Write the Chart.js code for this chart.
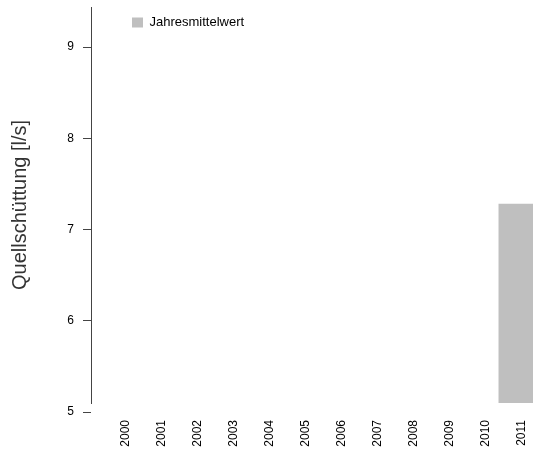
<!DOCTYPE html>
<html>
<head>
<meta charset="utf-8">
<script src="https://cdn.jsdelivr.net/npm/chart.js@4.4.1/dist/chart.umd.min.js"></script>
<style>
  html, body { margin: 0; padding: 0; background: #fff; overflow: hidden; }
  #wrap { width: 533px; height: 453px; }
</style>
</head>
<body>
<div id="wrap"><canvas id="myChart" width="533" height="453"></canvas></div>
<script>
const years = [2000, 2001, 2002, 2003, 2004, 2005, 2006, 2007, 2008, 2009, 2010, 2011];
const yearlyMean = [null, null, null, null, null, null, null, null, null, null, null, 7.28];
const yTicks = [5, 6, 7, 8, 9];

const axisColor = '#444';
const font = 'Liberation Sans, Arial, sans-serif';

// legend sits inside the plot, a bit right of the axis
const legendShift = {
    id: 'legendShift',
    afterLayout(chart) {
        chart.legend.left += 31;
        chart.legend.top += 6;
    }
};

const ctx = document.getElementById('myChart').getContext('2d');

const myChart = new Chart(ctx, {
    type: 'bar',
    data: {
        datasets: [{
            label: 'Jahresmittelwert',
            data: years.map((y, i) => ({ x: y, y: yearlyMean[i] })),
            backgroundColor: '#bfbfbf',
            borderWidth: 0,
            barThickness: 46
        }]
    },
    options: {
        responsive: false,
        animation: false,
        layout: { padding: { top: 7, left: 0, right: 0, bottom: 0 } },
        plugins: {
            tooltip: { enabled: false },
            legend: {
                position: 'chartArea',
                align: 'start',
                labels: {
                    boxWidth: 11,
                    boxHeight: 10,
                    padding: 10,
                    color: '#000',
                    font: { family: font, size: 13 }
                }
            }
        },
        scales: {
            x: {
                type: 'linear',
                offset: false,
                min: 1999.03,
                max: 2011.31,
                afterBuildTicks: (scale) => { scale.ticks = years.map(v => ({ value: v })); },
                afterFit: (scale) => { scale.height = 50; scale.paddingLeft = 0; scale.paddingRight = 0; },
                grid: { display: false, drawTicks: false },
                border: { display: false },
                ticks: {
                    autoSkip: false,
                    minRotation: 90,
                    maxRotation: 90,
                    padding: 17,
                    color: '#000',
                    font: { family: font, size: 12 },
                    callback: (v) => String(v)
                }
            },
            y: {
                min: 5.1,
                max: 9.44,
                afterBuildTicks: (scale) => { scale.ticks = yTicks.map(v => ({ value: v })); },
                afterFit: (scale) => { scale.width = 91; scale.paddingTop = 0; scale.paddingBottom = 0; },
                grid: { drawOnChartArea: false, drawTicks: true, tickLength: 8, color: axisColor, lineWidth: 1 },
                border: { display: true, color: axisColor, width: 1 },
                ticks: {
                    padding: 9,
                    color: '#000',
                    font: { family: font, size: 12 }
                },
                title: {
                    display: true,
                    text: 'Quellschüttung [l/s]',
                    color: '#333',
                    padding: { top: 8, bottom: 0 },
                    font: { family: font, size: 20 }
                }
            }
        }
    },
    plugins: [legendShift]
});
</script>
</body>
</html>
